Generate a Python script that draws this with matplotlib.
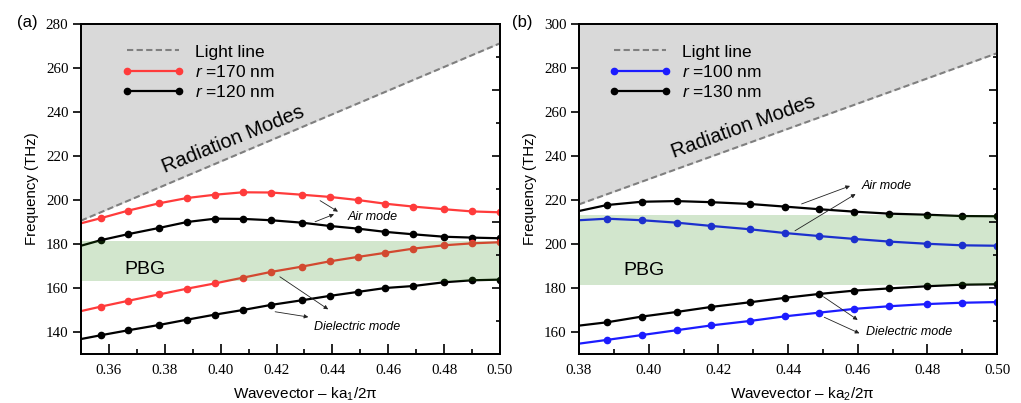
import matplotlib
matplotlib.use("Agg")
import matplotlib.pyplot as plt
import numpy as np

plt.rcParams['font.family'] = ['Liberation Sans', 'DejaVu Sans']
plt.rcParams['mathtext.fontset'] = 'custom'
plt.rcParams['mathtext.rm'] = 'Liberation Sans'
plt.rcParams['mathtext.it'] = 'Liberation Sans:italic'

# ---- panel (a) data ----
k_a = [0.35, 0.357, 0.367, 0.378, 0.388, 0.398, 0.408, 0.418, 0.429, 0.439,
       0.449, 0.459, 0.469, 0.480, 0.490, 0.500]
air_170 = [189.4, 191.7, 195.2, 198.5, 200.9, 202.4, 203.5, 203.4, 202.4, 201.4,
           200.0, 198.3, 197.0, 195.8, 194.8, 194.4]
air_120 = [179.2, 181.7, 184.5, 187.3, 190.0, 191.5, 191.4, 190.8, 189.7, 188.2,
           187.0, 185.5, 184.4, 183.3, 182.9, 182.6]
diel_170 = [149.5, 151.5, 154.2, 157.1, 159.7, 162.1, 164.7, 167.3, 169.7, 172.1,
            174.1, 176.0, 177.9, 179.4, 180.3, 180.8]
diel_120 = [136.8, 138.5, 140.8, 143.2, 145.6, 147.9, 150.0, 152.3, 154.4, 156.4,
            158.2, 160.0, 160.9, 162.6, 163.5, 163.8]
light_k_a = [0.35, 0.50]
light_f_a = [190.6, 271.2]
pbg_a = (163.0, 181.5)

# ---- panel (b) data ----
k_b = [0.38, 0.388, 0.398, 0.408, 0.418, 0.429, 0.439, 0.449, 0.459, 0.469,
       0.480, 0.490, 0.500]
air_130 = [215.0, 217.7, 219.2, 219.5, 219.0, 218.2, 217.0, 215.8, 214.7, 213.8,
           213.3, 212.7, 212.6]
air_100 = [210.8, 211.5, 210.8, 209.7, 208.2, 206.7, 205.0, 203.6, 202.3, 201.1,
           200.1, 199.4, 199.2]
diel_130 = [162.9, 164.4, 167.0, 169.1, 171.4, 173.5, 175.5, 177.3, 178.8, 179.8,
            180.8, 181.5, 181.7]
diel_100 = [154.7, 156.4, 158.6, 160.8, 163.0, 165.0, 167.1, 168.8, 170.5, 171.7,
            172.7, 173.3, 173.6]
light_k_b = [0.38, 0.50]
light_f_b = [218.0, 286.7]
pbg_b = (181.2, 213.2)

RED = '#ff3b3b'
BLUE = '#1c1cff'
GRAY_FILL = '#d9d9d9'
BAND = (0.12, 0.51, 0.02, 0.2)
TICKFONT = 'Liberation Serif'


def panel(ax, k, curves, light_k, light_f, pbg, xlim, ylim, xticks, yticks,
          rticks, rminor, sub):
    ax.fill_between(light_k, light_f, ylim[1], color=GRAY_FILL, lw=0, zorder=0)
    ax.plot(light_k, light_f, ls=(0, (3, 1.6)), color='#7f7f7f', lw=1.5,
            zorder=4, label='Light line')
    for ys, col, lab in curves:
        ax.plot(k, ys, color=col, lw=1.6, marker='o', ms=4.5,
                markevery=slice(1, None), zorder=2, label=lab)
    ax.axhspan(pbg[0], pbg[1], color=BAND, lw=0, zorder=3)

    ax.set_xlim(*xlim)
    ax.set_ylim(*ylim)
    ax.set_xticks(xticks, ['%.2f' % t for t in xticks], fontfamily=TICKFONT,
                  fontsize=10.8)
    ax.set_xticks(np.arange(xlim[0], xlim[1] + 0.001, 0.01), minor=True)
    ax.set_yticks(yticks, [str(t) for t in yticks], fontfamily=TICKFONT,
                  fontsize=10.8)
    ax.tick_params(axis='x', which='both', direction='in', top=False,
                   pad=7, width=1.2)
    ax.tick_params(axis='x', which='major', length=7)
    ax.tick_params(axis='x', which='minor', length=3.5)
    ax.tick_params(axis='y', which='both', direction='out', right=False,
                   length=6, width=1.2, pad=3)
    for s in ax.spines.values():
        s.set_linewidth(1.3)

    ax2 = ax.twinx()
    ax2.set_ylim(*ylim)
    ax2.set_yticks(rticks)
    ax2.set_yticks(rminor, minor=True)
    ax2.tick_params(axis='y', which='both', direction='in', labelright=False,
                    width=1.2)
    ax2.tick_params(axis='y', which='major', length=6)
    ax2.tick_params(axis='y', which='minor', length=3)
    for s in ax2.spines.values():
        s.set_linewidth(1.3)

    ax.set_ylabel('Frequency (THz)', fontsize=10.8, labelpad=5)
    ax.set_xlabel(r'Wavevector – ka$_{%s}$/2π' % sub, fontsize=11)
    ax.xaxis.set_label_coords(0.535, -0.095)
    return ax2


fig = plt.figure(figsize=(10.21, 4.03), dpi=100)
axa = fig.add_axes([0.0793, 0.1216, 0.4104, 0.8189])
axb = fig.add_axes([0.5671, 0.1216, 0.4094, 0.8189])

ta = panel(axa, k_a,
           [(air_170, RED, '$r$ =170 nm'), (air_120, 'black', '$r$ =120 nm'),
            (diel_170, RED, None), (diel_120, 'black', None)],
           light_k_a, light_f_a, pbg_a, (0.35, 0.50), (130, 280),
           [0.36, 0.38, 0.40, 0.42, 0.44, 0.46, 0.48, 0.50],
           [140, 160, 180, 200, 220, 240, 260, 280],
           [160, 190, 220, 250], [145, 175, 205, 235, 265], '1')
tb = panel(axb, k_b,
           [(air_100, BLUE, '$r$ =100 nm'), (air_130, 'black', '$r$ =130 nm'),
            (diel_100, BLUE, None), (diel_130, 'black', None)],
           light_k_b, light_f_b, pbg_b, (0.38, 0.50), (150, 300),
           [0.38, 0.40, 0.42, 0.44, 0.46, 0.48, 0.50],
           [160, 180, 200, 220, 240, 260, 280, 300],
           [180, 210, 240, 270], [165, 195, 225, 255, 285], '2')

for ax, x0 in [(axa, 0.068), (axb, 0.041)]:
    h, l = ax.get_legend_handles_labels()
    ax.legend(h, l, loc='upper left', bbox_to_anchor=(x0, 0.975),
              frameon=False, fontsize=12.5, numpoints=2, handlelength=3.6,
              handletextpad=0.65, labelspacing=0.25, borderpad=0.2)

# panel (a) texts
axa.text(0.4044, 227.3, 'Radiation Modes', rotation=22, fontsize=14.5,
         ha='center', va='center', zorder=5)
axa.text(0.3654, 168.5, 'PBG', fontsize=14, va='center', zorder=5)
axa.text(0.4456, 192.3, 'Air mode', fontsize=9, style='italic', va='center')
axa.text(0.4335, 142.4, 'Dielectric mode', fontsize=9, style='italic',
         va='center')
arrows_a = [((0.4356, 199.7), (0.4420, 194.7)),
            ((0.4338, 190.1), (0.4406, 193.5)),
            ((0.4212, 165.1), (0.4385, 150.3)),
            ((0.4195, 149.2), (0.4314, 146.8))]
for p0, p1 in arrows_a:
    axa.annotate('', xy=p1, xytext=p0, zorder=6,
                 arrowprops=dict(arrowstyle='-|>', lw=0.6, color='#222222',
                                 mutation_scale=6, shrinkA=0, shrinkB=0))

# panel (b) texts
axb.text(0.4272, 253.3, 'Radiation Modes', rotation=20, fontsize=14.5,
         ha='center', va='center', zorder=5)
axb.text(0.3927, 187.9, 'PBG', fontsize=14, va='center', zorder=5)
axb.text(0.461, 226.4, 'Air mode', fontsize=9, style='italic', va='center')
axb.text(0.4624, 160.1, 'Dielectric mode', fontsize=9, style='italic',
         va='center')
arrows_b = [((0.4439, 218.2), (0.4578, 226.4)),
            ((0.4420, 206.0), (0.4594, 222.7)),
            ((0.4502, 176.0), (0.4600, 165.5)),
            ((0.4504, 166.7), (0.4605, 159.4))]
for p0, p1 in arrows_b:
    axb.annotate('', xy=p1, xytext=p0, zorder=6,
                 arrowprops=dict(arrowstyle='-|>', lw=0.6, color='#222222',
                                 mutation_scale=6, shrinkA=0, shrinkB=0))

fig.text(17 / 1021, 1 - 22.5 / 403, '(a)', fontsize=12, va='center')
fig.text(512 / 1021, 1 - 22.5 / 403, '(b)', fontsize=12, va='center')

fig.savefig('out.png', dpi=100)
